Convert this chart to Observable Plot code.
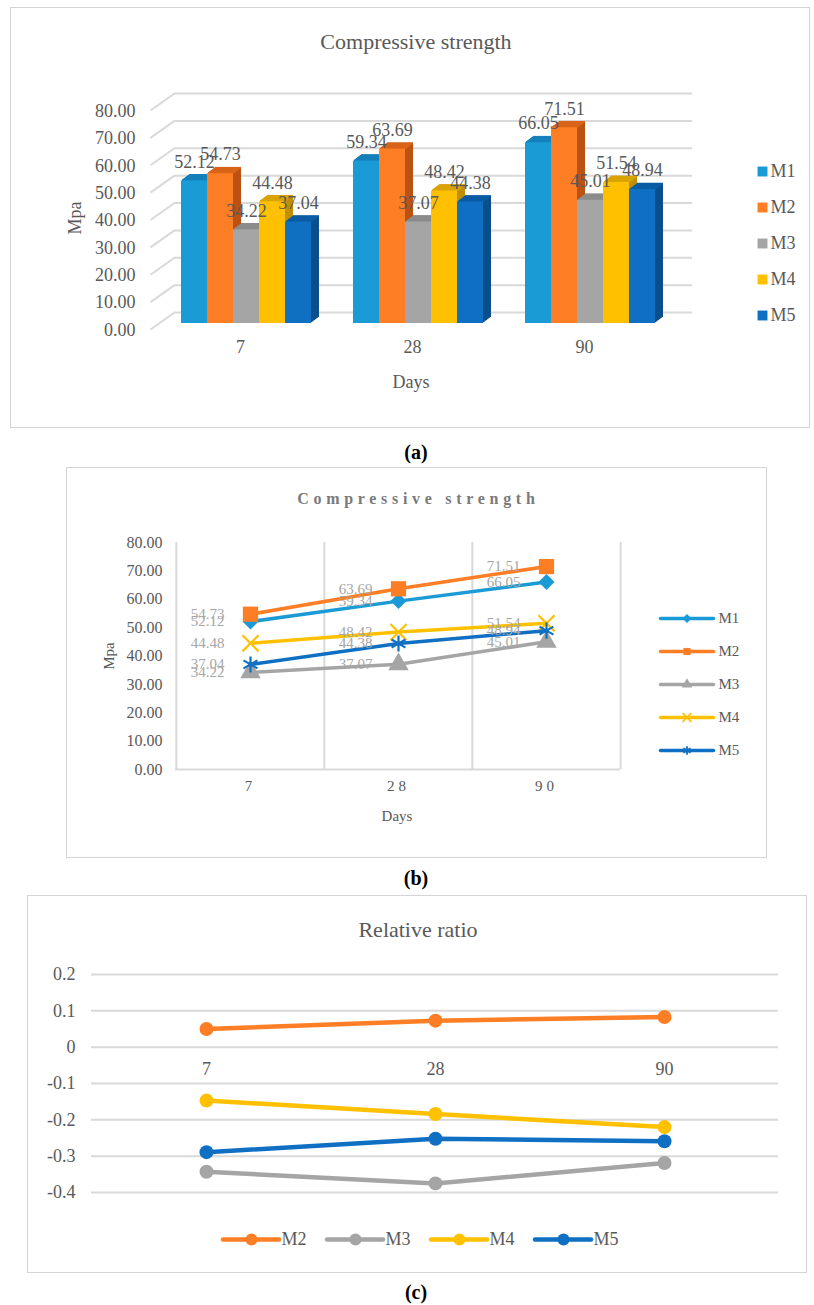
<!DOCTYPE html>
<html><head><meta charset="utf-8">
<script src="https://cdn.jsdelivr.net/npm/d3@7"></script>
<script src="https://cdn.jsdelivr.net/npm/@observablehq/plot@0.6"></script>
<style>
html,body{margin:0;padding:0;background:#fff;}
#root{position:relative;width:814px;height:1305px;overflow:hidden;font-family:"Liberation Serif",serif;color:#595959;}
.box{position:absolute;border:1.5px solid #d4d4d4;box-sizing:border-box;}
.lbl{position:absolute;white-space:nowrap;line-height:1;}
.slot{position:absolute;}
.slot svg{overflow:visible;display:block;}
</style></head><body><div id="root"></div>
<script>
// ---------- data ----------
const days = ["7", "28", "90"];
const series = ["M1", "M2", "M3", "M4", "M5"];
const strengthM1 = [52.12, 59.34, 66.05];
const strengthM2 = [54.73, 63.69, 71.51];
const strengthM3 = [34.22, 37.07, 45.01];
const strengthM4 = [44.48, 48.42, 51.54];
const strengthM5 = [37.04, 44.38, 48.94];
const ratioSeries = ["M2", "M3", "M4", "M5"];
const ratioM2 = [0.05, 0.073, 0.083];
const ratioM3 = [-0.343, -0.375, -0.319];
const ratioM4 = [-0.147, -0.184, -0.22];
const ratioM5 = [-0.289, -0.252, -0.259];
const mpaTicks = [0, 10, 20, 30, 40, 50, 60, 70, 80];
const ratioTicks = [-0.4, -0.3, -0.2, -0.1, 0, 0.1, 0.2];
const seriesColors = ["#1a9bd6", "#fd7e24", "#a5a5a5", "#ffc000", "#0f70c3"];
const sideColors = ["#0f6a9e", "#bb5212", "#7a7a7a", "#bf8f00", "#0a4e8c"];
const topColors = ["#1580bb", "#d9631a", "#8c8c8c", "#d9a300", "#0b5ca5"];
const lineSymbols = ["diamond2", "square", "triangle", "times", "asterisk"];
const markerRadius = [7.2, 8.6, 7.6, 7.4, 7.6];
const ratioColors = ["#fd7e24", "#a5a5a5", "#ffc000", "#0f70c3"];

// ---------- tables ----------
const strengthSeries = [strengthM1, strengthM2, strengthM3, strengthM4, strengthM5];
const tableA = series.flatMap((s, i) => days.map((d, j) => ({series: s, day: d, value: strengthSeries[i][j]})));
const ratioValues = [ratioM2, ratioM3, ratioM4, ratioM5];
const tableC = ratioSeries.flatMap((s, i) => days.map((d, j) => ({series: s, day: d, value: ratioValues[i][j]})));
const colorOf = (arr) => (s) => arr[series.indexOf(s)];

const root = document.getElementById("root");
const FONT = '"Liberation Serif", serif';
const W = 814;
function place(node, left, top) {
  const d = document.createElement("div");
  d.className = "slot"; d.style.left = left + "px"; d.style.top = top + "px";
  d.appendChild(node); root.appendChild(d); return d;
}
function box(l, t, w, h) {
  const d = document.createElement("div"); d.className = "box";
  Object.assign(d.style, {left: l + "px", top: t + "px", width: w + "px", height: h + "px"});
  root.appendChild(d);
}
function label(text, cx, cy, size, opts = {}) {
  const d = document.createElement("div"); d.className = "lbl"; d.textContent = text;
  d.style.left = cx + "px"; d.style.top = cy + "px"; d.style.fontSize = size + "px";
  d.style.transform = "translate(-50%,-50%)" + (opts.rotate ? " rotate(-90deg)" : "");
  if (opts.bold) d.style.fontWeight = "bold";
  if (opts.color) d.style.color = opts.color;
  if (opts.ls) { d.style.letterSpacing = opts.ls + "px"; d.style.paddingLeft = opts.ls + "px"; }
  root.appendChild(d);
}
const baseStyle = {fontFamily: FONT, color: "#595959", background: "transparent", overflow: "visible"};

// ================= (a) 3D column chart =================
box(10, 7, 800, 421);
label("Compressive strength", 416, 42, 22);
label("Mpa", 75, 218, 18, {rotate: true});
label("Days", 411, 382, 18);
label("(a)", 416, 452, 20, {bold: true, color: "#000"});

const aTop = 104, aBottom = 323, aLeft = 159, aRight = 677, aH = 430;
const pxY = 80 / (aBottom - aTop), pxX = 1 / (aRight - aLeft);
const bgA = Plot.plot({
  width: W, height: aH, marginTop: aTop, marginBottom: aH - aBottom, marginLeft: aLeft, marginRight: W - aRight,
  x: {domain: [0, 1], axis: null}, y: {domain: [0, 80], axis: null},
  style: {...baseStyle, fontSize: "18px"},
  marks: [
    Plot.ruleY(mpaTicks, {y: d => d, stroke: "#d9d9d9", strokeWidth: 2, dx: 15, dy: -11}),
    Plot.link(mpaTicks, {x1: -9 * pxX, y1: d => d - 6 * pxY, x2: 15 * pxX, y2: d => d + 11 * pxY, stroke: "#d9d9d9", strokeWidth: 2}),
    Plot.text(mpaTicks, {y: d => d, frameAnchor: "left", text: d => d.toFixed(2), textAnchor: "end", dx: -24, dy: 6.5, fill: "#595959", fontSize: 18})
  ]
});
place(bgA, 0, 0);

const depth = d3.range(1, 9);
const fgA = Plot.plot({
  width: W, height: aH, marginTop: aTop, marginBottom: aH - aBottom, marginLeft: aLeft, marginRight: W - aRight,
  fx: {domain: days, paddingInner: 0.23, paddingOuter: 0.115, axis: null, label: null},
  x: {domain: series, padding: 0, axis: null},
  y: {domain: [0, 80], axis: null},
  color: {type: "identity"},
  style: {...baseStyle, fontSize: "18px"},
  marks: [
    ...depth.map(k => Plot.barY(tableA, {fx: "day", x: "series", y: "value", fill: d => colorOf(sideColors)(d.series), dx: k, dy: -0.75 * k})),
    ...depth.map(k => Plot.tickY(tableA, {fx: "day", x: "series", y: "value", stroke: d => colorOf(topColors)(d.series), strokeWidth: 1.6, dx: k, dy: -0.75 * k})),
    Plot.barY(tableA, {fx: "day", x: "series", y: "value", fill: d => colorOf(seriesColors)(d.series)}),
    Plot.text(tableA, {fx: "day", x: "series", y: "value", text: d => d.value.toFixed(2), dy: -19, fill: "#595959", fontSize: 18}),
    Plot.text(days, {fx: d => d, text: d => d, frameAnchor: "bottom", dy: 29, dx: -6, fill: "#595959", fontSize: 18})
  ]
});
place(fgA, 0, 0);

const legA = Plot.plot({
  width: 74, height: 185, marginTop: 21, marginBottom: 20, marginLeft: 22, marginRight: 0,
  x: {domain: [0, 1], axis: null},
  y: {type: "point", domain: series, padding: 0, axis: null},
  color: {domain: series, range: seriesColors},
  style: {...baseStyle, fontSize: "18px"},
  marks: [
    Plot.dot(series, {x: 0, y: d => d, symbol: "square", fill: d => d, r: 5.6}),
    Plot.text(series, {x: 0, y: d => d, text: d => d, textAnchor: "start", dx: 8, fill: "#595959", fontSize: 18})
  ]
});
place(legA, 740, 150);

// ================= (b) line chart =================
box(66, 467, 701, 391);
label("Compressive strength", 416, 499, 16, {bold: true, color: "#7a7a7a", ls: 4.7});
label("Mpa", 109, 656, 15, {rotate: true});
label("Days", 397, 816, 15);
label("(b)", 416, 878, 20, {bold: true, color: "#000"});

const bTop = 82, bBottom = 309, bLeft = 175, bRight = 620, bH = 400;
const bStep = (bRight - bLeft) / days.length;
const filledSet = new Set(["M1", "M2", "M3"]);
const seriesMarks = series.flatMap((s, i) => {
  const rows = tableA.filter(d => d.series === s);
  const filled = filledSet.has(s);
  return [
    Plot.line(rows, {x: "day", y: "value", stroke: "series", strokeWidth: 3.5}),
    filled
      ? Plot.dot(rows, {x: "day", y: "value", symbol: "series", fill: "series", r: markerRadius[i]})
      : Plot.dot(rows, {x: "day", y: "value", symbol: "series", stroke: "series", fill: "none", strokeWidth: 2.2, r: markerRadius[i]})
  ];
});
const plotB = Plot.plot({
  width: W, height: bH, marginTop: bTop, marginBottom: bH - bBottom, marginLeft: bLeft, marginRight: W - bRight,
  x: {type: "point", domain: days, padding: 0.5, tickSize: 0, tickPadding: 11, label: null},
  y: {domain: [0, 80], ticks: mpaTicks, tickFormat: d => d.toFixed(2), tickSize: 0, tickPadding: 13, label: null},
  color: {domain: series, range: seriesColors},
  symbol: {domain: series, range: lineSymbols},
  style: {...baseStyle, fontSize: "16px"},
  marks: [
    Plot.ruleX(days, {x: d => d, dx: -bStep / 2, stroke: "#d9d9d9", strokeWidth: 2}),
    Plot.ruleX(days.slice(-1), {x: d => d, dx: bStep / 2, stroke: "#d9d9d9", strokeWidth: 2}),
    Plot.ruleY([0], {stroke: "#d9d9d9", strokeWidth: 2}),
    ...seriesMarks,
    Plot.text(tableA, {x: "day", y: "value", text: d => d.value.toFixed(2), textAnchor: "end", dx: -26, fill: "#a6a6a6", fontSize: 15})
  ]
});
d3.select(plotB).selectAll('g[aria-label="x-axis tick label"] text').style("letter-spacing", "4px").style("font-size", "15px");
place(plotB, 0, 460);

const legB = Plot.plot({
  width: 140, height: 190, marginTop: 27, marginBottom: 29, marginLeft: 20, marginRight: 67,
  x: {domain: [0, 1], axis: null},
  y: {type: "point", domain: series, padding: 0, axis: null},
  color: {domain: series, range: seriesColors},
  symbol: {domain: series, range: lineSymbols},
  style: {...baseStyle, fontSize: "15px"},
  marks: [
    Plot.link(series, {x1: 0, x2: 1, y1: d => d, y2: d => d, stroke: d => d, strokeWidth: 3.5, strokeLinecap: "round"}),
    Plot.dot(series.filter(s => filledSet.has(s)), {x: 0.5, y: d => d, symbol: d => d, fill: d => d, r: 4}),
    Plot.dot(series.filter(s => !filledSet.has(s)), {x: 0.5, y: d => d, symbol: d => d, stroke: d => d, fill: "none", strokeWidth: 1.8, r: 4}),
    Plot.text(series, {x: 1, y: d => d, text: d => d, textAnchor: "start", dx: 5, fill: "#595959", fontSize: 15})
  ]
});
place(legB, 640, 590);

// ================= (c) relative ratio =================
box(27, 895, 780, 378);
label("Relative ratio", 418, 930, 22);
label("(c)", 416, 1292, 20, {bold: true, color: "#000"});

const cTop = 974, cBottom = 1192, cLeft = 91, cRight = 778, cY0 = 940, cH = 280;
const plotC = Plot.plot({
  width: W, height: cH, marginTop: cTop - cY0, marginBottom: cH - (cBottom - cY0), marginLeft: cLeft, marginRight: W - cRight,
  x: {type: "point", domain: days, padding: 0.5, axis: null},
  y: {domain: [-0.4, 0.2], ticks: ratioTicks, tickFormat: d => d === 0 ? "0" : d.toFixed(1), tickSize: 0, tickPadding: 16, label: null},
  color: {domain: ratioSeries, range: ratioColors},
  style: {...baseStyle, fontSize: "18px"},
  marks: [
    Plot.ruleY(ratioTicks, {y: d => d, stroke: "#d9d9d9", strokeWidth: 2}),
    Plot.text(days, {x: d => d, y: 0, dy: 22, text: d => d, fill: "#595959", fontSize: 18}),
    Plot.line(tableC, {x: "day", y: "value", z: "series", stroke: "series", strokeWidth: 4.5}),
    Plot.dot(tableC, {x: "day", y: "value", fill: "series", r: 7})
  ]
});
place(plotC, 0, cY0);

const legC = Plot.plot({
  width: 420, height: 40, marginTop: 0, marginBottom: 0, marginLeft: 22, marginRight: 29,
  x: {type: "band", domain: ratioSeries, paddingInner: 0.463, paddingOuter: 0, axis: null},
  y: {domain: [0, 1], axis: null},
  color: {domain: ratioSeries, range: ratioColors},
  style: {...baseStyle, fontSize: "18px"},
  marks: [
    Plot.tickY(ratioSeries, {x: d => d, y: 0.5, stroke: d => d, strokeWidth: 4.5, strokeLinecap: "round"}),
    Plot.dot(ratioSeries, {x: d => d, y: 0.5, fill: d => d, r: 6}),
    Plot.text(ratioSeries, {x: d => d, y: 0.5, text: d => d, textAnchor: "start", dx: 30, fill: "#595959", fontSize: 18})
  ]
});
place(legC, 200, 1219);
</script></body></html>
